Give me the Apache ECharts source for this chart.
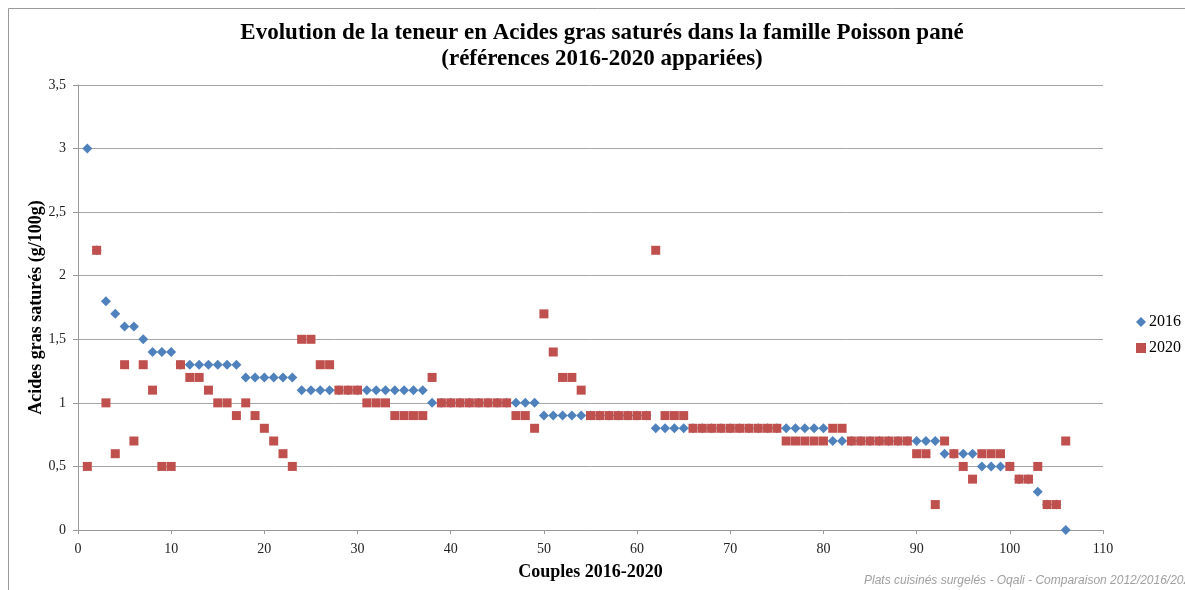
<!DOCTYPE html>
<html>
<head>
<meta charset="utf-8">
<script src="https://cdn.jsdelivr.net/npm/echarts@6/dist/echarts.min.js"></script>
<style>
  html, body { margin: 0; padding: 0; background: #fff; }
  #chart { width: 1185px; height: 590px; }
</style>
</head>
<body>
<div id="chart"></div>
<script>
// teneur en AGS (g/100g) par couple, 2016 et 2020
var values2016 = [
  3.0, 2.2, 1.8, 1.7, 1.6, 1.6, 1.5, 1.4, 1.4, 1.4,
  1.3, 1.3, 1.3, 1.3, 1.3, 1.3, 1.3, 1.2, 1.2, 1.2,
  1.2, 1.2, 1.2, 1.1, 1.1, 1.1, 1.1, 1.1, 1.1, 1.1,
  1.1, 1.1, 1.1, 1.1, 1.1, 1.1, 1.1, 1.0, 1.0, 1.0,
  1.0, 1.0, 1.0, 1.0, 1.0, 1.0, 1.0, 1.0, 1.0, 0.9,
  0.9, 0.9, 0.9, 0.9, 0.9, 0.9, 0.9, 0.9, 0.9, 0.9,
  0.9, 0.8, 0.8, 0.8, 0.8, 0.8, 0.8, 0.8, 0.8, 0.8,
  0.8, 0.8, 0.8, 0.8, 0.8, 0.8, 0.8, 0.8, 0.8, 0.8,
  0.7, 0.7, 0.7, 0.7, 0.7, 0.7, 0.7, 0.7, 0.7, 0.7,
  0.7, 0.7, 0.6, 0.6, 0.6, 0.6, 0.5, 0.5, 0.5, 0.5,
  0.4, 0.4, 0.3, 0.2, 0.2, 0.0
]
var values2020 = [
  0.5, 2.2, 1.0, 0.6, 1.3, 0.7, 1.3, 1.1, 0.5, 0.5,
  1.3, 1.2, 1.2, 1.1, 1.0, 1.0, 0.9, 1.0, 0.9, 0.8,
  0.7, 0.6, 0.5, 1.5, 1.5, 1.3, 1.3, 1.1, 1.1, 1.1,
  1.0, 1.0, 1.0, 0.9, 0.9, 0.9, 0.9, 1.2, 1.0, 1.0,
  1.0, 1.0, 1.0, 1.0, 1.0, 1.0, 0.9, 0.9, 0.8, 1.7,
  1.4, 1.2, 1.2, 1.1, 0.9, 0.9, 0.9, 0.9, 0.9, 0.9,
  0.9, 2.2, 0.9, 0.9, 0.9, 0.8, 0.8, 0.8, 0.8, 0.8,
  0.8, 0.8, 0.8, 0.8, 0.8, 0.7, 0.7, 0.7, 0.7, 0.7,
  0.8, 0.8, 0.7, 0.7, 0.7, 0.7, 0.7, 0.7, 0.7, 0.6,
  0.6, 0.2, 0.7, 0.6, 0.5, 0.4, 0.6, 0.6, 0.6, 0.5,
  0.4, 0.4, 0.5, 0.2, 0.2, 0.7
]
var seriesNames = ['2016', '2020']
var seriesColors = ['#4F81BD', '#C0504D']

// numéro du couple (1..106)
function pairs(values) {
  return values.map(function (v, i) { return [i + 1, v] })
}

var serif = '"Liberation Serif", "DejaVu Serif", serif'
var chart = echarts.init(document.getElementById('chart'), null, { renderer: 'canvas' })

chart.setOption({
  animation: false,
  backgroundColor: '#fff',
  title: {
    text: 'Evolution de la teneur en Acides gras saturés dans la famille Poisson pané\n(références 2016-2020 appariées)',
    left: 602,
    textAlign: 'center',
    top: 20,
    padding: 0,
    textStyle: {
      fontFamily: serif,
      fontWeight: 'bold',
      fontSize: 23,
      lineHeight: 26,
      color: '#000'
    }
  },
  legend: {
    orient: 'vertical',
    left: 1131,
    top: 309,
    itemWidth: 10,
    itemHeight: 10,
    itemGap: 10,
    data: [
      { name: seriesNames[0], icon: 'diamond' },
      { name: seriesNames[1], icon: 'rect' }
    ],
    textStyle: { fontFamily: serif, fontSize: 16, color: '#000', padding: [0, 0, 0, -2] }
  },
  grid: {
    left: 78,
    right: 82,
    top: 85,
    bottom: 60
  },
  xAxis: {
    type: 'value',
    min: 0,
    max: 110,
    interval: 10,
    name: 'Couples 2016-2020',
    nameLocation: 'middle',
    nameGap: 33,
    nameMoveOverlap: false,
    nameTextStyle: { fontFamily: serif, fontWeight: 'bold', fontSize: 18, color: '#000' },
    axisLine: { lineStyle: { color: '#999' } },
    axisTick: { show: true, length: 4, lineStyle: { color: '#999' } },
    axisLabel: { fontFamily: serif, fontSize: 14, color: '#222', margin: 12 },
    splitLine: { show: false }
  },
  yAxis: {
    type: 'value',
    min: 0,
    max: 3.5,
    interval: 0.5,
    name: 'Acides gras saturés (g/100g)',
    nameLocation: 'middle',
    nameGap: 33,
    nameMoveOverlap: false,
    nameTextStyle: { fontFamily: serif, fontWeight: 'bold', fontSize: 18, color: '#000' },
    axisLine: { show: true, lineStyle: { color: '#999' } },
    axisTick: { show: true, length: 5, lineStyle: { color: '#999' } },
    axisLabel: {
      fontFamily: serif,
      fontSize: 14,
      color: '#222',
      margin: 12,
      formatter: function (v) { return String(v).replace('.', ',') }
    },
    splitLine: { lineStyle: { color: '#a6a6a6', width: 1 } }
  },
  series: [
    {
      name: seriesNames[0],
      type: 'scatter',
      symbol: 'diamond',
      symbolSize: 10,
      itemStyle: { color: seriesColors[0], opacity: 1 },
      data: pairs(values2016)
    },
    {
      name: seriesNames[1],
      type: 'scatter',
      symbol: 'rect',
      symbolSize: 9,
      itemStyle: { color: seriesColors[1], opacity: 1 },
      data: pairs(values2020)
    }
  ],
  graphic: [
    {
      // cadre du graphique
      type: 'rect',
      shape: { x: 8.5, y: 8.5, width: 1200, height: 600 },
      style: { fill: 'none', stroke: '#9a9a9a', lineWidth: 1 },
      silent: true
    },
    {
      type: 'text',
      left: 864,
      top: 575,
      style: {
        text: 'Plats cuisinés surgelés - Oqali - Comparaison 2012/2016/2020',
        font: 'italic 12px "Liberation Sans", sans-serif',
        fill: '#a0a0a0'
      }
    }
  ]
})
</script>
</body>
</html>
